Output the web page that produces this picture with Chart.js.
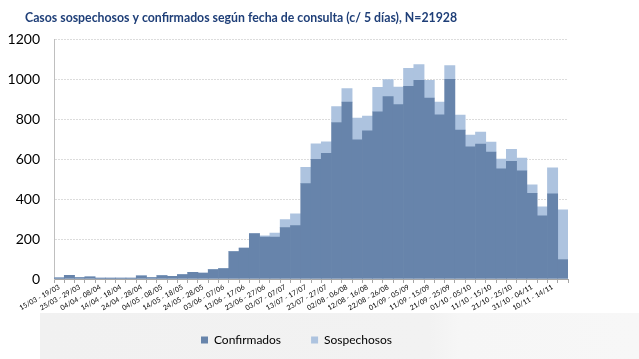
<!DOCTYPE html>
<html>
<head>
<meta charset="utf-8">
<script src="https://cdn.jsdelivr.net/npm/chart.js@4"></script>
<style>
html,body{margin:0;padding:0;background:#ffffff;}
#wrap{position:relative;width:639px;height:359px;overflow:hidden;}
#band{position:absolute;left:40px;top:313px;width:599px;height:46px;background:linear-gradient(90deg,#f1f1f1 0%,#f2f2f2 65%,#f6f6f6 70%,#f7f7f7 100%);}
canvas{position:absolute;left:0;top:0;}
</style>
</head>
<body>
<div id="wrap"><div id="band"></div><canvas id="c" width="639" height="359"></canvas></div>
<script>
const categories = [
"15/03 - 19/03","20/03 - 24/03","25/03 - 29/03","30/03 - 03/04","04/04 - 08/04",
"09/04 - 13/04","14/04 - 18/04","19/04 - 23/04","24/04 - 28/04","29/04 - 03/05",
"04/05 - 08/05","09/05 - 13/05","14/05 - 18/05","19/05 - 23/05","24/05 - 28/05",
"29/05 - 02/06","03/06 - 07/06","08/06 - 12/06","13/06 - 17/06","18/06 - 22/06",
"23/06 - 27/06","28/06 - 02/07","03/07 - 07/07","08/07 - 12/07","13/07 - 17/07",
"18/07 - 22/07","23/07 - 27/07","28/07 - 01/08","02/08 - 06/08","07/08 - 11/08",
"12/08 - 16/08","17/08 - 21/08","22/08 - 26/08","27/08 - 31/08","01/09 - 05/09",
"06/09 - 10/09","11/09 - 15/09","16/09 - 20/09","21/09 - 25/09","26/09 - 30/09",
"01/10 - 05/10","06/10 - 10/10","11/10 - 15/10","16/10 - 20/10","21/10 - 25/10",
"26/10 - 30/10","31/10 - 04/11","05/11 - 09/11","10/11 - 14/11","15/11 - 19/11"
];
const confirmados = [
6,18,7,11,4,4,5,5,16,7,
17,13,22,33,30,47,52,137,155,228,
210,210,258,268,478,600,630,785,887,698,
743,838,915,875,967,997,908,823,1002,747,
663,677,637,553,590,543,430,317,427,98
];
const sospechosos = [
0,0,0,0,0,0,0,0,0,0,
0,0,0,0,0,0,0,0,0,0,
7,20,40,59,82,78,58,80,68,109,
74,124,85,88,90,78,89,64,68,75,
59,60,50,49,60,64,42,45,130,249
];
const yTicks = [0,200,400,600,800,1000,1200];
const titleText = "Casos sospechosos y confirmados según fecha de consulta (c/ 5 días), N=21928";

const FONT = "Lato, 'Liberation Sans', sans-serif";
function noClip(s){ s._computeLabelArea = function(){ return undefined; }; }
new Chart(document.getElementById('c'), {
  type: 'bar',
  data: {
    labels: categories,
    datasets: [
      {label:'Confirmados', data:confirmados, backgroundColor:'#6784ab', borderWidth:0, barPercentage:1, categoryPercentage:1},
      {label:'Sospechosos', data:sospechosos, backgroundColor:'#adc3df', borderWidth:0, barPercentage:1, categoryPercentage:1}
    ]
  },
  options: {
    responsive:false, animation:false,
    layout:{padding:{left:25,right:71,top:0,bottom:3}},
    plugins:{
      title:{display:true,text:titleText,align:'start',color:'#1f3f78',
        font:{family:FONT,size:12.3,weight:'bold'},padding:{top:11,bottom:14}},
      legend:{position:'bottom',labels:{boxWidth:7,boxHeight:7,padding:30,color:'#000',
        font:{family:FONT,size:12}}},
      tooltip:{enabled:false}
    },
    scales:{
      x:{stacked:true,
        afterFit:function(s){s.height=25;noClip(s);},
        grid:{display:true,offset:true,drawOnChartArea:false,drawTicks:true,tickLength:4,color:'#a6a6a6'},
        border:{color:'#a6a6a6'},
        ticks:{autoSkip:false,minRotation:29,maxRotation:29,padding:0,color:'#000',
          font:{family:FONT,size:7},
          callback:function(v,i){return i%2===0?categories[i]:'';}}
      },
      y:{stacked:true,min:0,max:1200,
        afterFit:function(s){s.width=29;noClip(s);},
        afterBuildTicks:function(s){s.ticks=yTicks.map(v=>({value:v}));},
        grid:{color:'#dcdcdc',drawTicks:false},
        border:{color:'#bfbfbf',dash:[2,1]},
        ticks:{padding:14,color:'#000',font:{family:FONT,size:14},
          callback:function(v){return String(v);}}
      }
    }
  }
});
</script>
</body>
</html>
